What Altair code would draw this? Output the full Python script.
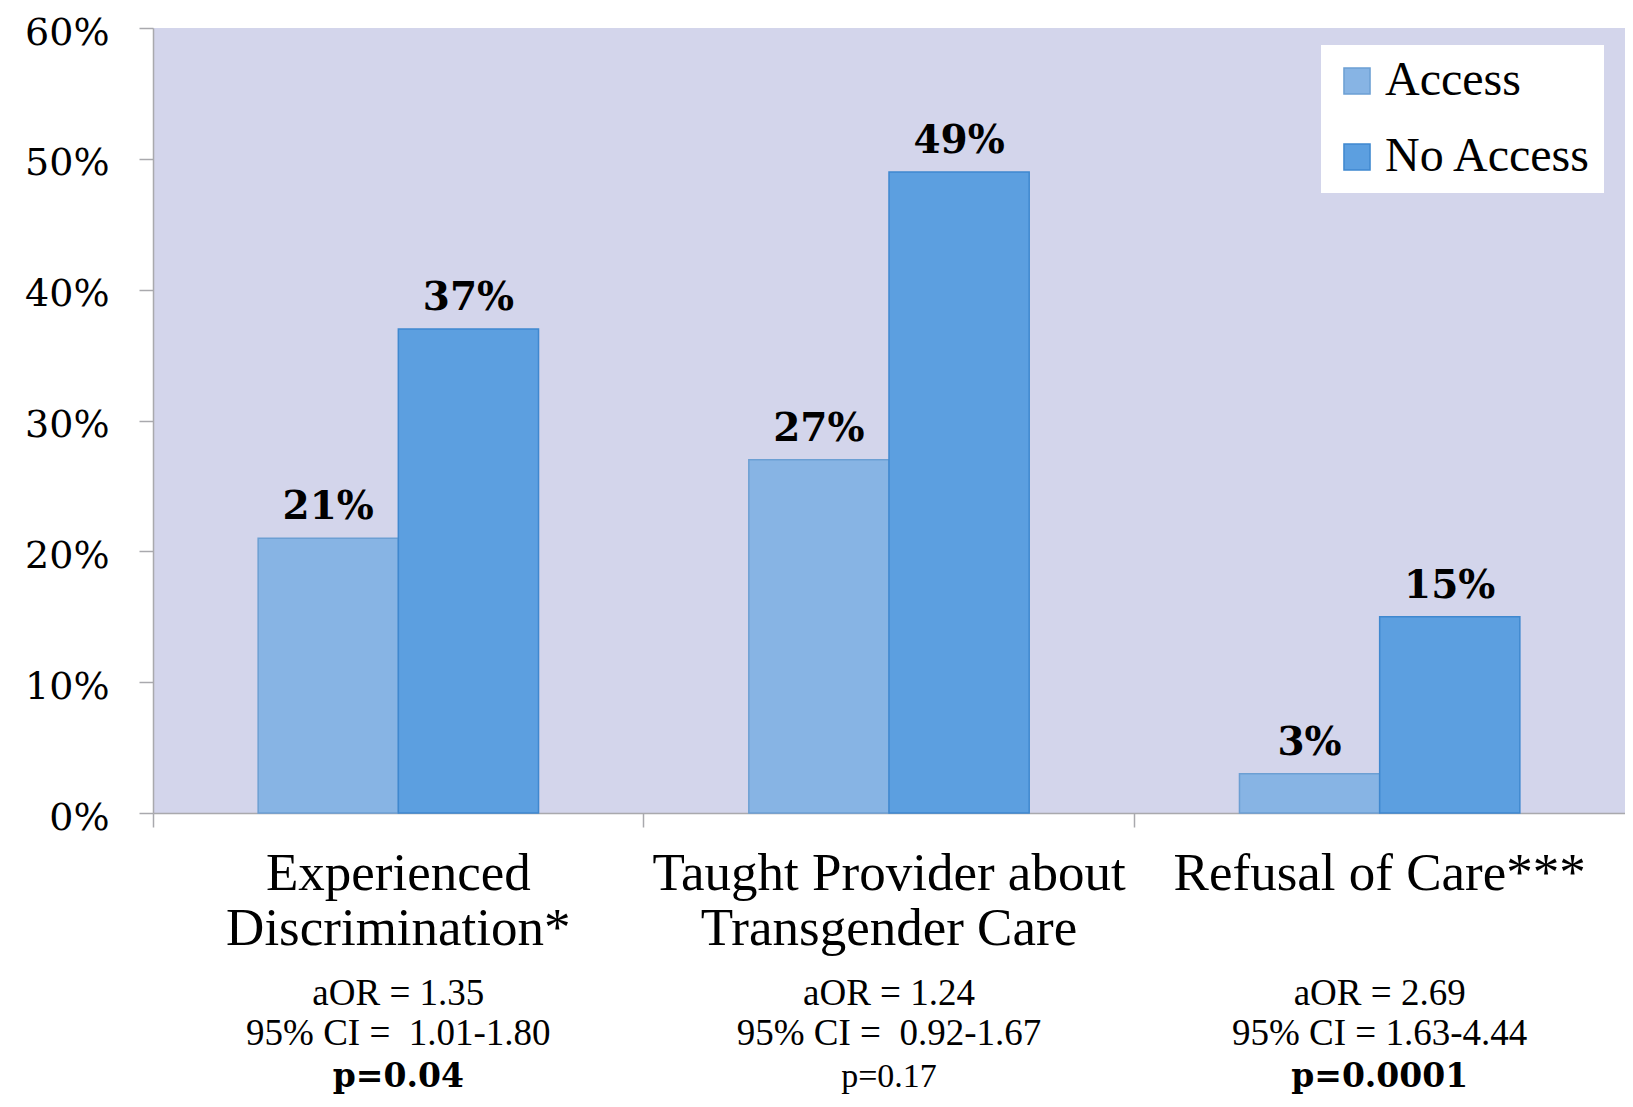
import altair as alt
import pandas as pd

categories = ["Experienced Discrimination*", "Taught Provider about Transgender Care", "Refusal of Care***"]
category_labels = ["Experienced\nDiscrimination*", "Taught Provider about\nTransgender Care", "Refusal of Care***"]
groups = ["Access", "No Access"]
access = [0.21, 0.27, 0.03]
no_access = [0.37, 0.49, 0.15]
stats_lines = ["aOR = 1.35\n95% CI =\u00a0 1.01-1.80", "aOR = 1.24\n95% CI =\u00a0 0.92-1.67", "aOR = 2.69\n95% CI = 1.63-4.44"]
p_lines = ["p=0.04", "p=0.17", "p=0.0001"]
p_significant = [True, False, True]
y_ticks = [0, 0.1, 0.2, 0.3, 0.4, 0.5, 0.6]

rows = []
for i, c in enumerate(categories):
    rows.append({"cat": c, "group": "Access", "value": access[i]})
    rows.append({"cat": c, "group": "No Access", "value": no_access[i]})
bars_df = pd.DataFrame(rows)

ann_df = pd.DataFrame({
    "cat": categories,
    "label": category_labels,
    "stats": stats_lines,
    "p": p_lines,
    "sig": p_significant,
})

W = 1472
H = 785
AXIS_GRAY = "#a9a9ad"

x_enc = alt.X(
    "cat:N",
    sort=categories,
    scale=alt.Scale(paddingInner=0, paddingOuter=0),
    axis=alt.Axis(
        labels=False, title=None, bandPosition=0, tickSize=14,
        tickColor=AXIS_GRAY, domainColor=AXIS_GRAY, tickWidth=1.5, domainWidth=1.5,
    ),
)
y_enc = alt.Y(
    "value:Q",
    scale=alt.Scale(domain=[0, 0.6]),
    axis=alt.Axis(
        values=y_ticks, format=".0%", title=None, grid=False, tickSize=14,
        labelPadding=30, labelFont="DejaVu Serif", labelFontSize=38, labelColor="black",
        labelBaseline="middle", labelOffset=5,
        tickColor=AXIS_GRAY, domainColor=AXIS_GRAY, tickWidth=1.5, domainWidth=1.5,
    ),
)
xoff = alt.XOffset("group:N", sort=groups, scale=alt.Scale(paddingOuter=0.75, paddingInner=0))

base = alt.Chart(bars_df)

bars = base.mark_bar(strokeWidth=1.5).encode(
    x=x_enc,
    xOffset=xoff,
    y=y_enc,
    fill=alt.Fill(
        "group:N", sort=groups, title=None,
        scale=alt.Scale(domain=groups, range=["#87b4e4", "#5c9fe0"]),
        legend=alt.Legend(
            orient="none", legendX=1168, legendY=17, fillColor="white", padding=12,
            labelFont="Liberation Serif", labelFontSize=48, labelColor="black", labelLimit=500,
            symbolType="square", symbolSize=680, symbolStrokeWidth=1.5, rowPadding=28,
            labelOffset=4, symbolOpacity=1,
        ),
    ),
    stroke=alt.Stroke(
        "group:N", sort=groups, title=None,
        scale=alt.Scale(domain=groups, range=["#6c9fd3", "#3f88cf"]),
    ),
)

values_text = base.mark_text(
    baseline="alphabetic", dy=-19, font="DejaVu Serif", fontWeight="bold", fontSize=39, color="black"
).encode(
    x=x_enc,
    xOffset=xoff,
    y=y_enc,
    text=alt.Text("value:Q", format=".0%"),
)

ann = alt.Chart(ann_df)

cat_text = ann.mark_text(
    lineBreak="\n", baseline="top", font="Liberation Serif", fontSize=53, lineHeight=55, color="black"
).encode(
    x=alt.X("cat:N", sort=categories),
    y=alt.value(H + 35),
    text="label:N",
)

stats_text = ann.mark_text(
    lineBreak="\n", baseline="top", font="Liberation Serif", fontSize=37, lineHeight=40, color="black"
).encode(
    x=alt.X("cat:N", sort=categories),
    y=alt.value(H + 163),
    text="stats:N",
)

p_bold = ann.transform_filter("datum.sig").mark_text(
    baseline="top", font="DejaVu Serif", fontWeight="bold", fontSize=33, color="black"
).encode(
    x=alt.X("cat:N", sort=categories),
    y=alt.value(H + 248),
    text="p:N",
)

p_plain = ann.transform_filter("!datum.sig").mark_text(
    baseline="top", font="Liberation Serif", fontSize=34, color="black"
).encode(
    x=alt.X("cat:N", sort=categories),
    y=alt.value(H + 247),
    text="p:N",
)

chart = alt.layer(bars, values_text, cat_text, stats_text, p_bold, p_plain).properties(
    width=W,
    height=H,
    autosize=alt.AutoSizeParams(type="none"),
    padding={"left": 145, "top": 20, "right": 0, "bottom": 285},
).configure_view(
    fill="#d3d5eb", strokeWidth=0
)

chart.save("out.html", embed_options={"renderer": "svg", "actions": False})
